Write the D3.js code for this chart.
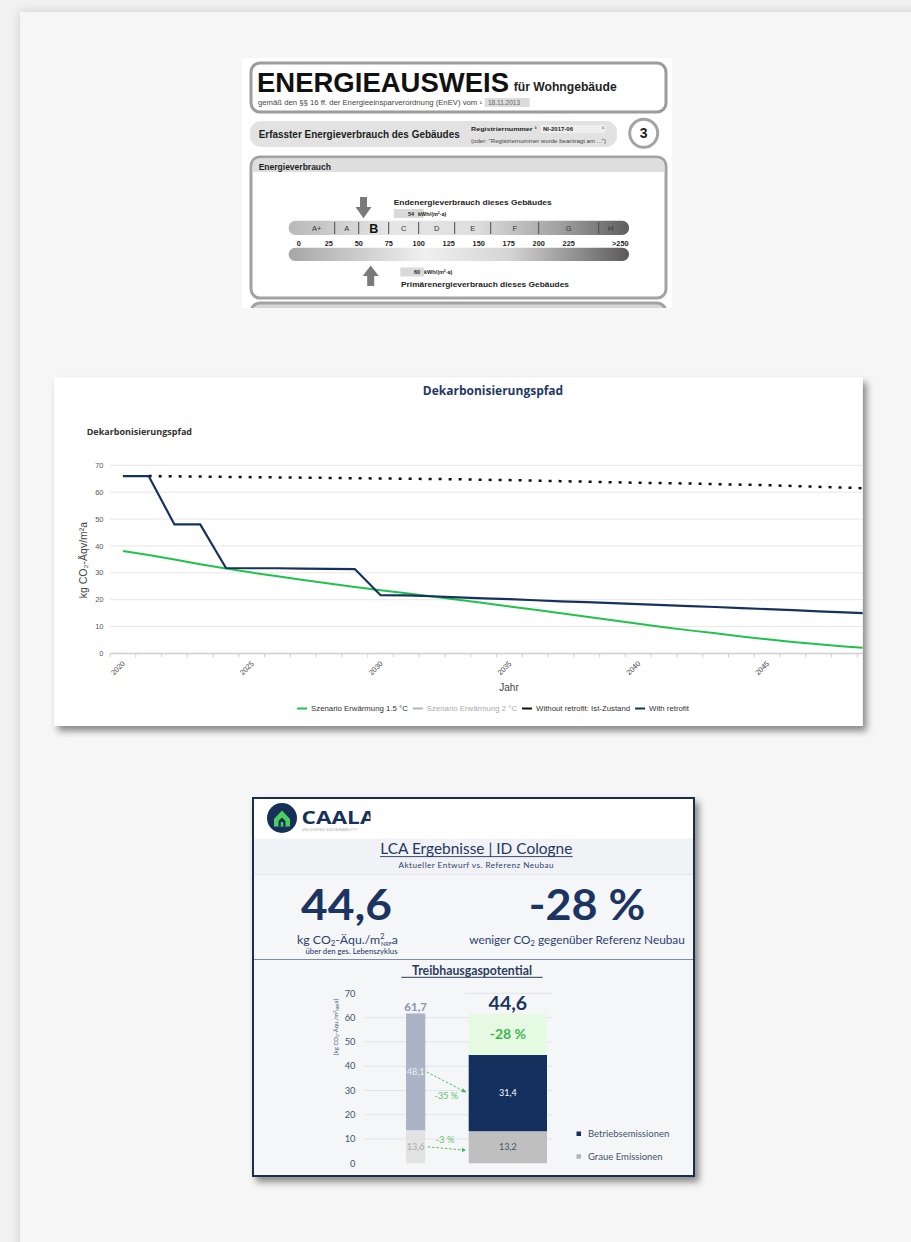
<!DOCTYPE html>
<html>
<head>
<meta charset="utf-8">
<script src="https://cdn.jsdelivr.net/npm/d3@7/dist/d3.min.js"></script>
<style>
html, body { margin: 0; padding: 0; background: #f1f1f1; }
svg { display: block; }
</style>
</head>
<body>
<svg id="page" width="911" height="1242"></svg>
<script>
// ---------- data: energy certificate ----------
const classBounds = [30, 50, 75, 100, 130, 160, 200, 250];
const classLabels = ['A+', 'A', 'B', 'C', 'D', 'E', 'F', 'G', 'H'];
const classMids = [15, 40, 62.5, 87.5, 115, 145, 180, 225, 260];
const scaleNumbers = [0, 25, 50, 75, 100, 125, 150, 175, 200, 225];
const endEnergy = 54;
const primEnergy = 60;

// ---------- data: decarbonisation path ----------
const years = [2020, 2021, 2022, 2023, 2024, 2025, 2026, 2027, 2028, 2029, 2030,
  2031, 2032, 2033, 2034, 2035, 2036, 2037, 2038, 2039, 2040,
  2041, 2042, 2043, 2044, 2045, 2046, 2047, 2048, 2049, 2050];
const scenario15 = [38.1, 36.6, 35.0, 33.2, 31.6, 30.1, 28.7, 27.3, 26.0, 24.7, 23.5,
  22.4, 21.2, 20.0, 18.8, 17.5, 16.3, 15.0, 13.7, 12.4, 11.1,
  9.8, 8.6, 7.5, 6.3, 5.3, 4.3, 3.4, 2.6, 2.0, 1.5];
const withoutRetrofit = [66.0, 66.0, 65.9, 65.8, 65.7, 65.6, 65.5, 65.4, 65.3, 65.2, 65.1,
  65.0, 64.9, 64.8, 64.6, 64.5, 64.3, 64.1, 63.9, 63.7, 63.5,
  63.4, 63.2, 63.0, 62.8, 62.6, 62.3, 62.0, 61.7, 61.4, 61.1];
const withRetrofit = [66.0, 66.0, 48.0, 48.0, 31.8, 31.7, 31.7, 31.6, 31.5, 31.4, 21.7,
  21.6, 21.3, 20.9, 20.5, 20.2, 19.8, 19.4, 19.1, 18.7, 18.4,
  18.0, 17.6, 17.3, 16.9, 16.5, 16.1, 15.7, 15.3, 14.9, 14.5];
const yTicks = [0, 10, 20, 30, 40, 50, 60, 70];
const legendItems = [
  { label: 'Szenario Erwärmung 1.5 °C', color: '#21c24c', hidden: false },
  { label: 'Szenario Erwärmung 2 °C', color: '#b5b5b5', hidden: true },
  { label: 'Without retrofit: Ist-Zustand', color: '#111', hidden: false },
  { label: 'With retrofit', color: '#15325f', hidden: false }
];

// ---------- data: LCA ----------
const lcaCats = ['Referenzgebäude', 'Aktueller Entwurf'];
const graue = [13.6, 13.2];
const betrieb = [48.1, 31.4];
const totals = [61.7, 44.6];
const lcaTicks = [0, 10, 20, 30, 40, 50, 60, 70];

const svg = d3.select('#page');
const defs = svg.append('defs');

const panelShadow = defs.append('filter').attr('id', 'panelShadow')
  .attr('x', '-5%').attr('y', '-5%').attr('width', '110%').attr('height', '110%');
panelShadow.append('feDropShadow').attr('dx', 0).attr('dy', 0).attr('stdDeviation', 5)
  .attr('flood-color', '#000').attr('flood-opacity', 0.16);

const cardShadow = defs.append('filter').attr('id', 'cardShadow')
  .attr('x', '-10%').attr('y', '-10%').attr('width', '125%').attr('height', '125%');
cardShadow.append('feDropShadow').attr('dx', 4).attr('dy', 5).attr('stdDeviation', 3.5)
  .attr('flood-color', '#000').attr('flood-opacity', 0.45);

// page panel
svg.append('rect').attr('width', 911).attr('height', 1242).attr('fill', '#f1f1f1');
svg.append('rect').attr('x', 20).attr('y', 12).attr('width', 960).attr('height', 1300)
  .attr('fill', '#f6f6f6').attr('filter', 'url(#panelShadow)');

// =====================================================================
// 1) Energieausweis
// =====================================================================
defs.append('clipPath').attr('id', 'ecClip')
  .append('rect').attr('x', 242).attr('y', 58).attr('width', 430).attr('height', 250);

const upperGrad = defs.append('linearGradient').attr('id', 'upperGrad');
[['0%', '#b8b8b8'], ['30%', '#e6e6e6'], ['55%', '#dedede'], ['80%', '#a0a0a0'], ['100%', '#5e5e5e']]
  .forEach(s => upperGrad.append('stop').attr('offset', s[0]).attr('stop-color', s[1]));
const lowerGrad = defs.append('linearGradient').attr('id', 'lowerGrad');
[['0%', '#a6a6a6'], ['40%', '#f0f0f0'], ['65%', '#d4d4d4'], ['100%', '#5a5a5a']]
  .forEach(s => lowerGrad.append('stop').attr('offset', s[0]).attr('stop-color', s[1]));

const ec = svg.append('g').attr('clip-path', 'url(#ecClip)')
  .attr('font-family', '"Liberation Sans", Arial, sans-serif').attr('fill', '#1e1e1e');

ec.append('rect').attr('x', 242).attr('y', 58).attr('width', 430).attr('height', 250).attr('fill', '#fff');

// header box
ec.append('rect').attr('x', 251).attr('y', 63).attr('width', 415).attr('height', 49).attr('rx', 9)
  .attr('fill', '#fff').attr('stroke', '#9c9c9c').attr('stroke-width', 3);
ec.append('text').attr('x', 257).attr('y', 92.3).attr('font-size', 28).attr('font-weight', 'bold')
  .attr('fill', '#111').attr('textLength', 252).attr('lengthAdjust', 'spacingAndGlyphs').text('ENERGIEAUSWEIS');
ec.append('text').attr('x', 513.7).attr('y', 91.3).attr('font-size', 12).attr('font-weight', 'bold')
  .attr('textLength', 103).attr('lengthAdjust', 'spacingAndGlyphs').text('für Wohngebäude');
ec.append('text').attr('x', 258).attr('y', 104.7).attr('font-size', 6.5).attr('fill', '#444')
  .attr('textLength', 224).attr('lengthAdjust', 'spacingAndGlyphs')
  .text('gemäß den §§ 16 ff. der Energieeinsparverordnung (EnEV) vom ¹');
ec.append('rect').attr('x', 484.7).attr('y', 98).attr('width', 45).attr('height', 9).attr('fill', '#dcdcdc');
ec.append('text').attr('x', 488).attr('y', 105).attr('font-size', 6.5).attr('fill', '#666').text('18.11.2013');

// second bar
ec.append('rect').attr('x', 250).attr('y', 121).attr('width', 367).attr('height', 26).attr('rx', 11)
  .attr('fill', '#e2e2e2');
ec.append('text').attr('x', 258.7).attr('y', 138).attr('font-size', 10).attr('font-weight', 'bold')
  .attr('textLength', 201).attr('lengthAdjust', 'spacingAndGlyphs')
  .text('Erfasster Energieverbrauch des Gebäudes');
ec.append('rect').attr('x', 541).attr('y', 125).attr('width', 64).attr('height', 8).attr('fill', '#eeeeee');
ec.append('text').attr('x', 471).attr('y', 130.7).attr('font-size', 5.5).attr('font-weight', 'bold')
  .attr('textLength', 66).attr('lengthAdjust', 'spacingAndGlyphs')
  .text('Registriernummer ¹');
ec.append('text').attr('x', 543).attr('y', 130.7).attr('font-size', 5.5).attr('font-weight', 'bold')
  .attr('textLength', 30).attr('lengthAdjust', 'spacingAndGlyphs').text('NI-2017-06');
ec.append('text').attr('x', 602).attr('y', 130.7).attr('font-size', 5.5).attr('font-weight', 'bold').text('¹');
ec.append('text').attr('x', 471).attr('y', 143).attr('font-size', 4.6).attr('fill', '#444')
  .attr('textLength', 135).attr('lengthAdjust', 'spacingAndGlyphs')
  .text('(oder: "Registriernummer wurde beantragt am ...")');
ec.append('circle').attr('cx', 643.7).attr('cy', 133.3).attr('r', 14)
  .attr('fill', '#fff').attr('stroke', '#a4a4a4').attr('stroke-width', 3);
ec.append('text').attr('x', 643.7).attr('y', 138.3).attr('text-anchor', 'middle')
  .attr('font-size', 14).attr('font-weight', 'bold').text('3');

// main box
ec.append('rect').attr('x', 251).attr('y', 157).attr('width', 415).attr('height', 141).attr('rx', 9)
  .attr('fill', '#fff').attr('stroke', '#a2a2a2').attr('stroke-width', 3);
ec.append('path')
  .attr('d', 'M252.5,172 L252.5,166 Q252.5,158.5 260,158.5 L657,158.5 Q664.5,158.5 664.5,166 L664.5,172 Z')
  .attr('fill', '#dedede');
ec.append('text').attr('x', 258.7).attr('y', 169.7).attr('font-size', 8.5).attr('font-weight', 'bold')
  .text('Energieverbrauch');
// next box peeking at the bottom
ec.append('rect').attr('x', 251).attr('y', 303).attr('width', 415).attr('height', 30).attr('rx', 9)
  .attr('fill', '#d6d6d6').attr('stroke', '#a2a2a2').attr('stroke-width', 3);

const ex = d3.scaleLinear().domain([0, 250]).range([298.7, 598.7]);
const bandL = ex(-8.4), bandR = ex(275.3);

ec.append('rect').attr('x', bandL).attr('y', 220.7).attr('width', bandR - bandL).attr('height', 14.3)
  .attr('rx', 7).attr('fill', 'url(#upperGrad)');
ec.append('rect').attr('x', bandL).attr('y', 247.7).attr('width', bandR - bandL).attr('height', 13.3)
  .attr('rx', 6.6).attr('fill', 'url(#lowerGrad)');

ec.selectAll('line.sep').data(classBounds).enter().append('line')
  .attr('x1', d => ex(d)).attr('x2', d => ex(d)).attr('y1', 222).attr('y2', 234)
  .attr('stroke', '#4a4a4a').attr('stroke-width', 1);

ec.selectAll('text.cls').data(classLabels).enter().append('text')
  .attr('x', (d, i) => ex(classMids[i])).attr('y', (d) => d === 'B' ? 232.5 : 231)
  .attr('text-anchor', 'middle')
  .attr('font-size', d => d === 'B' ? 12.5 : 7.5)
  .attr('font-weight', d => d === 'B' ? 'bold' : 'normal')
  .attr('fill', d => d === 'B' ? '#111' : '#333')
  .text(d => d);

ec.selectAll('text.num').data(scaleNumbers).enter().append('text')
  .attr('x', d => ex(d)).attr('y', 245.5).attr('text-anchor', 'middle')
  .attr('font-size', 7.3).attr('font-weight', 'bold').text(d => d);
ec.append('text').attr('x', bandR - 0.5).attr('y', 245.5).attr('text-anchor', 'end')
  .attr('font-size', 7.3).attr('font-weight', 'bold').text('>250');

// arrows
const ax1 = ex(endEnergy), ax2 = ex(primEnergy);
ec.append('path')
  .attr('d', `M${ax1 - 3.5},197 L${ax1 + 3.5},197 L${ax1 + 3.5},207 L${ax1 + 8},207 L${ax1},218.3 L${ax1 - 8},207 L${ax1 - 3.5},207 Z`)
  .attr('fill', '#7a7a7a');
ec.append('path')
  .attr('d', `M${ax2 - 3.5},286 L${ax2 + 3.5},286 L${ax2 + 3.5},276 L${ax2 + 8},276 L${ax2},265.5 L${ax2 - 8},276 L${ax2 - 3.5},276 Z`)
  .attr('fill', '#7a7a7a');

ec.append('text').attr('x', 393.7).attr('y', 205).attr('font-size', 7.2).attr('font-weight', 'bold')
  .attr('textLength', 158).attr('lengthAdjust', 'spacingAndGlyphs')
  .text('Endenergieverbrauch dieses Gebäudes');
ec.append('rect').attr('x', 393.7).attr('y', 209).attr('width', 30).attr('height', 9).attr('fill', '#d9d9d9');
ec.append('text').attr('x', 414).attr('y', 215.8).attr('text-anchor', 'end').attr('font-size', 5.5)
  .attr('font-weight', 'bold').text(endEnergy);
ec.append('text').attr('x', 418).attr('y', 215.8).attr('font-size', 5.5).attr('font-weight', 'bold')
  .text('kWh/(m²·a)');

ec.append('rect').attr('x', 400.3).attr('y', 267.5).attr('width', 23.5).attr('height', 9).attr('fill', '#d9d9d9');
ec.append('text').attr('x', 420).attr('y', 274.3).attr('text-anchor', 'end').attr('font-size', 5.5)
  .attr('font-weight', 'bold').text(primEnergy);
ec.append('text').attr('x', 424).attr('y', 274.3).attr('font-size', 5.5).attr('font-weight', 'bold')
  .text('kWh/(m²·a)');
ec.append('text').attr('x', 401).attr('y', 287).attr('font-size', 7.2).attr('font-weight', 'bold')
  .attr('textLength', 168).attr('lengthAdjust', 'spacingAndGlyphs')
  .text('Primärenergieverbrauch dieses Gebäudes');

// =====================================================================
// 2) Dekarbonisierungspfad line chart
// =====================================================================
const card = { x: 54, y: 377.5, w: 808.7, h: 348.5 };
svg.append('rect').attr('x', card.x).attr('y', card.y).attr('width', card.w).attr('height', card.h)
  .attr('fill', '#fff').attr('filter', 'url(#cardShadow)');
defs.append('clipPath').attr('id', 'cardClip')
  .append('rect').attr('x', card.x).attr('y', card.y).attr('width', card.w).attr('height', card.h);

const ch = svg.append('g').attr('clip-path', 'url(#cardClip)')
  .attr('font-family', '"Liberation Sans", Arial, sans-serif');

ch.append('text').attr('x', 493).attr('y', 394.7).attr('text-anchor', 'middle')
  .attr('font-family', '"Open Sans", sans-serif').attr('font-weight', 'bold').attr('font-size', 12)
  .attr('fill', '#1f3864').text('Dekarbonisierungspfad');
ch.append('text').attr('x', 86.7).attr('y', 434.7)
  .attr('font-family', '"Open Sans", sans-serif').attr('font-weight', 'bold').attr('font-size', 9)
  .attr('fill', '#333').text('Dekarbonisierungspfad');

const step = 25.77;
const x = d3.scaleBand().domain(years).range([110, 110 + step * years.length]).paddingInner(0).paddingOuter(0);
const xc = d => x(d) + x.bandwidth() / 2;
const y = d3.scaleLinear().domain([0, 70]).range([653.5, 465.3]);

// grid
ch.selectAll('line.grid').data(yTicks.filter(d => d > 0)).enter().append('line')
  .attr('x1', 110).attr('x2', 870).attr('y1', d => y(d)).attr('y2', d => y(d))
  .attr('stroke', '#e6e6e6').attr('stroke-width', 1);
ch.selectAll('text.ytick').data(yTicks).enter().append('text')
  .attr('x', 103.5).attr('y', d => y(d)).attr('dy', '0.35em').attr('text-anchor', 'end')
  .attr('font-size', 7.5).attr('fill', '#555').text(d => d);

// x axis
ch.append('line').attr('x1', 110).attr('x2', 870).attr('y1', y(0)).attr('y2', y(0))
  .attr('stroke', '#cfcfcf').attr('stroke-width', 1.5);
ch.selectAll('line.xtick').data(years).enter().append('line')
  .attr('x1', d => x(d)).attr('x2', d => x(d)).attr('y1', y(0)).attr('y2', y(0) + 4)
  .attr('stroke', '#cfcfcf').attr('stroke-width', 1);
ch.selectAll('text.xlab').data(years.filter(d => d % 5 === 0)).enter().append('text')
  .attr('transform', d => `translate(${xc(d) + 1},${y(0) + 9}) rotate(-45)`)
  .attr('text-anchor', 'end').attr('dy', '0.3em')
  .attr('font-size', 7.3).attr('fill', '#444').text(d => d);

ch.append('text').attr('transform', 'translate(87,560) rotate(-90)').attr('text-anchor', 'middle')
  .attr('font-size', 10.5).attr('fill', '#444').text('kg CO₂-Äqv/m²a');
ch.append('text').attr('x', 509).attr('y', 690.7).attr('text-anchor', 'middle')
  .attr('font-size', 10).attr('fill', '#444').text('Jahr');

// lines
const line = d3.line().x((d, i) => xc(years[i])).y(d => y(d));
const plot = ch.append('g');
plot.append('path').datum(scenario15).attr('d', line).attr('fill', 'none')
  .attr('stroke', '#21c24c').attr('stroke-width', 2);
plot.append('path').datum(withoutRetrofit.slice(1)).attr('d', d3.line().x((d, i) => xc(years[i + 1])).y(d => y(d)))
  .attr('fill', 'none').attr('stroke', '#111').attr('stroke-width', 2.5).attr('stroke-dasharray', '3,7');
plot.append('path').datum(withRetrofit).attr('d', line).attr('fill', 'none')
  .attr('stroke', '#15325f').attr('stroke-width', 2.2).attr('stroke-linejoin', 'miter');

// legend
const leg = ch.append('g');
let lx = 0;
legendItems.forEach(item => {
  const g = leg.append('g').attr('transform', `translate(${lx},0)`);
  g.append('line').attr('x1', 0).attr('x2', 10).attr('y1', 0).attr('y2', 0)
    .attr('stroke', item.color).attr('stroke-width', 2);
  const t = g.append('text').attr('x', 14).attr('y', 0).attr('dy', '0.33em')
    .attr('font-size', 7.8).attr('fill', item.hidden ? '#aaa' : '#333').text(item.label);
  lx += 14 + t.node().getComputedTextLength() + 5;
});
lx -= 5;
leg.attr('transform', `translate(${493 - lx / 2},708.5)`);

// =====================================================================
// 3) LCA panel
// =====================================================================
const lb = { x: 252, y: 797, w: 443, h: 380 };
svg.append('rect').attr('x', lb.x).attr('y', lb.y).attr('width', lb.w).attr('height', lb.h)
  .attr('fill', '#f5f6f8').attr('filter', 'url(#cardShadow)');
defs.append('clipPath').attr('id', 'lcaClip')
  .append('rect').attr('x', lb.x).attr('y', lb.y).attr('width', lb.w).attr('height', lb.h);
const lc = svg.append('g').attr('clip-path', 'url(#lcaClip)')
  .attr('font-family', 'Lato, "Open Sans", sans-serif');
const navy = '#1b3461';

lc.append('rect').attr('x', lb.x).attr('y', lb.y).attr('width', lb.w).attr('height', 41.7).attr('fill', '#fff');
lc.append('rect').attr('x', lb.x).attr('y', 838.7).attr('width', lb.w).attr('height', 35.6).attr('fill', '#f1f2f5');
lc.append('line').attr('x1', lb.x).attr('x2', lb.x + lb.w).attr('y1', 874.5).attr('y2', 874.5)
  .attr('stroke', '#e2e5ea');

// logo
const logo = lc.append('g');
logo.append('circle').attr('cx', 282).attr('cy', 818).attr('r', 15).attr('fill', '#17305a');
logo.append('path').attr('d', 'M274,819 L282,810.5 L290,819 L290,826.5 L274,826.5 Z').attr('fill', '#4ccf5a');
logo.append('path').attr('d', 'M278.5,826.5 L278.5,821 L282,817.5 L285.5,821 L285.5,826.5 Z').attr('fill', '#17305a');
logo.append('rect').attr('x', 280.8).attr('y', 822).attr('width', 2.4).attr('height', 4.5).attr('fill', '#4ccf5a');
const logoClip = defs.append('clipPath').attr('id', 'logoClip');
logoClip.append('rect').attr('x', 300).attr('y', 800).attr('width', 70.5).attr('height', 35);
const lt = lc.append('g').attr('clip-path', 'url(#logoClip)');
lt.append('text').attr('x', 301.5).attr('y', 823.5).attr('font-family', '"Open Sans", sans-serif')
  .attr('font-weight', 'bold').attr('font-size', 17).attr('fill', '#17305a')
  .attr('textLength', 74).attr('lengthAdjust', 'spacingAndGlyphs').text('CAALA');
lt.append('text').attr('x', 302).attr('y', 831).attr('font-size', 3.3).attr('fill', '#999')
  .attr('letter-spacing', 0.4).text('UNLOCKING SUSTAINABILITY');

// title block
lc.append('text').attr('x', 476.3).attr('y', 854.3).attr('text-anchor', 'middle')
  .attr('font-size', 14.5).attr('fill', '#1f3864').attr('textLength', 192).attr('lengthAdjust', 'spacingAndGlyphs')
  .text('LCA Ergebnisse | ID Cologne');
lc.append('line').attr('x1', 380).attr('x2', 572.7).attr('y1', 856.6).attr('y2', 856.6)
  .attr('stroke', '#1f3864').attr('stroke-width', 0.9);
lc.append('text').attr('x', 476.3).attr('y', 867.7).attr('text-anchor', 'middle')
  .attr('font-size', 8.2).attr('fill', '#2e4570').attr('letter-spacing', 0.45)
  .text('Aktueller Entwurf vs. Referenz Neubau');

// big numbers
lc.append('text').attr('x', 346.5).attr('y', 920.3).attr('text-anchor', 'middle')
  .attr('font-size', 42).attr('font-weight', 'bold').attr('fill', navy)
  .attr('textLength', 91).attr('lengthAdjust', 'spacingAndGlyphs').text('44,6');
const u1 = lc.append('text').attr('x', 347.5).attr('y', 943.7).attr('text-anchor', 'middle')
  .attr('font-size', 12.3).attr('fill', '#2b4170');
u1.append('tspan').text('kg CO');
u1.append('tspan').attr('font-size', 7.8).attr('dy', 2).text('2');
u1.append('tspan').attr('dy', -2).text('-Äqu./m');
u1.append('tspan').attr('font-size', 7.8).attr('dy', -4.5).text('2');
u1.append('tspan').attr('font-size', 5.5).attr('dx', -3.5).attr('dy', 6.5).text('NRF');
u1.append('tspan').attr('dy', -2).text('a');
lc.append('text').attr('x', 351.5).attr('y', 953.7).attr('text-anchor', 'middle')
  .attr('font-size', 7.5).attr('fill', navy).attr('textLength', 92).attr('lengthAdjust', 'spacingAndGlyphs')
  .text('über den ges. Lebenszyklus');

lc.append('text').attr('x', 587).attr('y', 920.3).attr('text-anchor', 'middle')
  .attr('font-size', 42).attr('font-weight', 'bold').attr('fill', navy)
  .attr('textLength', 116.6).attr('lengthAdjust', 'spacingAndGlyphs').text('-28 %');
const u2 = lc.append('text').attr('x', 577).attr('y', 944.3).attr('text-anchor', 'middle')
  .attr('font-size', 11.8).attr('fill', '#2b4170');
u2.append('tspan').text('weniger CO');
u2.append('tspan').attr('font-size', 7.5).attr('dy', 2).text('2');
u2.append('tspan').attr('dy', -2).text(' gegenüber Referenz Neubau');

lc.append('line').attr('x1', lb.x).attr('x2', lb.x + lb.w).attr('y1', 959.5).attr('y2', 959.5)
  .attr('stroke', '#7d8cab').attr('stroke-width', 1);

// Treibhausgaspotential
lc.append('text').attr('x', 472).attr('y', 975).attr('text-anchor', 'middle')
  .attr('font-size', 12.3).attr('font-weight', 'bold').attr('fill', '#2b3d5e')
  .text('Treibhausgaspotential');
lc.append('line').attr('x1', 401.3).attr('x2', 542.7).attr('y1', 977.3).attr('y2', 977.3)
  .attr('stroke', '#2b3d5e').attr('stroke-width', 1);

const ly = d3.scaleLinear().domain([0, 70]).range([1163.3, 993.3]);
const barX = [406, 468.7];
const barW = [19.3, 78.3];
const barCx = i => barX[i] + barW[i] / 2;

lc.selectAll('line.lgrid').data(lcaTicks.filter(d => d > 0)).enter().append('line')
  .attr('x1', d => d === 70 ? 465 : 365).attr('x2', 552).attr('y1', d => ly(d)).attr('y2', d => ly(d))
  .attr('stroke', '#e1e3e7').attr('stroke-width', 1);
lc.selectAll('text.lytick').data(lcaTicks).enter().append('text')
  .attr('x', 355.5).attr('y', d => ly(d)).attr('dy', '0.35em').attr('text-anchor', 'end')
  .attr('font-size', 9.3).attr('fill', '#44546a').text(d => d);
const yt = lc.append('text').attr('transform', 'translate(337.5,1027) rotate(-90)').attr('text-anchor', 'middle')
  .attr('font-size', 6).attr('fill', '#44546a');
yt.append('tspan').text('[kg CO');
yt.append('tspan').attr('font-size', 4).attr('dy', 1).text('2');
yt.append('tspan').attr('dy', -1).text('-Äqu./m');
yt.append('tspan').attr('font-size', 4).attr('dy', -2).text('2');
yt.append('tspan').attr('font-size', 3.5).attr('dy', 3).text('NRF');
yt.append('tspan').attr('dy', -1).text('a]');

// bars
const segColors = [
  { g: '#e3e3e3', b: '#aab4c6' },
  { g: '#bfbfbf', b: '#13305f' }
];
lcaCats.forEach((c, i) => {
  lc.append('rect').attr('x', barX[i]).attr('width', barW[i])
    .attr('y', ly(graue[i])).attr('height', ly(0) - ly(graue[i])).attr('fill', segColors[i].g);
  lc.append('rect').attr('x', barX[i]).attr('width', barW[i])
    .attr('y', ly(graue[i] + betrieb[i])).attr('height', ly(graue[i]) - ly(graue[i] + betrieb[i]))
    .attr('fill', segColors[i].b);
});
// saving segment on current design
lc.append('rect').attr('x', barX[1]).attr('width', barW[1])
  .attr('y', ly(totals[0])).attr('height', ly(totals[1]) - ly(totals[0])).attr('fill', '#e6fae3');

const fmt = v => String(v).replace('.', ',');
lc.append('text').attr('x', barCx(0)).attr('y', ly(totals[0]) - 2.5).attr('text-anchor', 'middle')
  .attr('font-size', 11.5).attr('font-weight', 'bold').attr('fill', '#8795ad').text(fmt(totals[0]));
lc.append('text').attr('x', barCx(1)).attr('y', 1010).attr('text-anchor', 'middle')
  .attr('font-size', 19.5).attr('font-weight', 'bold').attr('fill', navy).text(fmt(totals[1]));
lc.append('text').attr('x', barCx(1)).attr('y', ly((totals[0] + totals[1]) / 2)).attr('dy', '0.36em')
  .attr('text-anchor', 'middle').attr('font-size', 14).attr('font-weight', 'bold').attr('fill', '#3fb64c')
  .text('-28 %');

lc.append('text').attr('x', barCx(0)).attr('y', ly(graue[0] + betrieb[0] / 2)).attr('dy', '0.35em')
  .attr('text-anchor', 'middle').attr('font-size', 9).attr('fill', '#eef0f4').text(fmt(betrieb[0]));
lc.append('text').attr('x', barCx(0)).attr('y', ly(graue[0] / 2)).attr('dy', '0.35em')
  .attr('text-anchor', 'middle').attr('font-size', 9).attr('fill', '#a9a9a9').text(fmt(graue[0]));
lc.append('text').attr('x', barCx(1)).attr('y', ly(graue[1] + betrieb[1] / 2)).attr('dy', '0.35em')
  .attr('text-anchor', 'middle').attr('font-size', 9).attr('fill', '#fff').text(fmt(betrieb[1]));
lc.append('text').attr('x', barCx(1)).attr('y', ly(graue[1] / 2)).attr('dy', '0.35em')
  .attr('text-anchor', 'middle').attr('font-size', 9).attr('fill', '#44546a').text(fmt(graue[1]));

// dashed change arrows
defs.append('marker').attr('id', 'arrowG').attr('viewBox', '0 0 10 10').attr('refX', 9).attr('refY', 5)
  .attr('markerWidth', 5).attr('markerHeight', 5).attr('orient', 'auto')
  .append('path').attr('d', 'M0,0 L10,5 L0,10 Z').attr('fill', '#3fb64c');
lc.append('line').attr('x1', barX[0] + barW[0] + 1.5).attr('y1', ly(graue[0] + betrieb[0] / 2))
  .attr('x2', barX[1] - 3).attr('y2', ly(graue[1] + betrieb[1] / 2) - 1)
  .attr('stroke', '#3fb64c').attr('stroke-width', 0.9).attr('stroke-dasharray', '2.5,1.8')
  .attr('marker-end', 'url(#arrowG)');
lc.append('line').attr('x1', barX[0] + barW[0] + 2.5).attr('y1', ly(graue[0] / 2))
  .attr('x2', barX[1] - 3).attr('y2', ly(graue[1] / 2) + 3)
  .attr('stroke', '#3fb64c').attr('stroke-width', 0.9).attr('stroke-dasharray', '2.5,1.8')
  .attr('marker-end', 'url(#arrowG)');
lc.append('text').attr('x', 446.3).attr('y', 1099.3).attr('text-anchor', 'middle')
  .attr('font-size', 9.3).attr('fill', '#62c46c').text('-35 %');
lc.append('text').attr('x', 445).attr('y', 1142.7).attr('text-anchor', 'middle')
  .attr('font-size', 9.3).attr('fill', '#62c46c').text('-3 %');

// legend
const lcaLegend = [
  { label: 'Betriebsemissionen', color: '#13305f' },
  { label: 'Graue Emissionen', color: '#b4b4b4' }
];
lcaLegend.forEach((d, i) => {
  lc.append('rect').attr('x', 576.5).attr('y', 1131.5 + i * 22.7).attr('width', 4.5).attr('height', 4.5)
    .attr('fill', d.color);
  lc.append('text').attr('x', 588).attr('y', 1137.3 + i * 22.7).attr('font-size', 9.5)
    .attr('fill', '#44546a').text(d.label);
});

// category labels (cut off by the frame)
lcaCats.forEach((c, i) => {
  lc.append('text').attr('x', barCx(i)).attr('y', 1183.5).attr('text-anchor', 'middle')
    .attr('font-size', 9.3).attr('fill', '#44546a').text(c);
});

svg.append('rect').attr('x', lb.x + 1).attr('y', lb.y + 1).attr('width', lb.w - 2).attr('height', lb.h - 2)
  .attr('fill', 'none').attr('stroke', '#1c2d52').attr('stroke-width', 2);
</script>
</body>
</html>
